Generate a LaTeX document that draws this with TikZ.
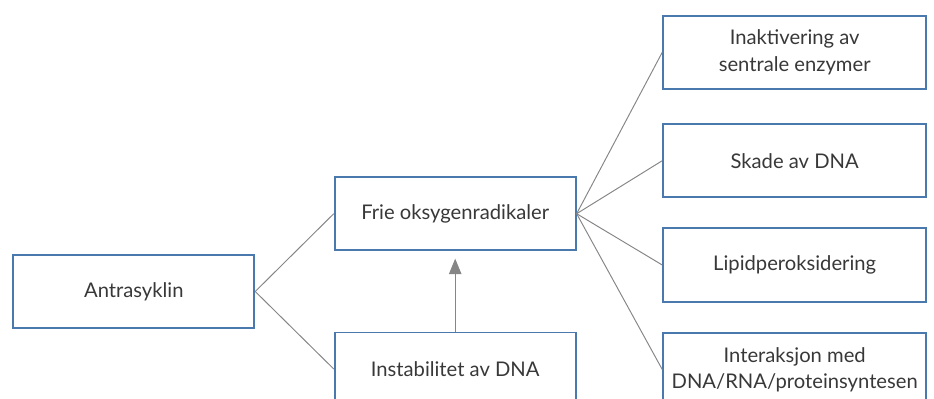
\documentclass[tikz,border=0pt]{standalone}
\usepackage{fontspec}
\setmainfont{Lato}
\usetikzlibrary{arrows.meta}
\definecolor{boxblue}{HTML}{4A79AE}
\definecolor{linegray}{HTML}{868686}
\definecolor{textgray}{HTML}{383838}
\tikzset{
  box/.style={draw=boxblue,line width=1.1pt,text=textgray,align=center,
    font=\fontsize{11.5}{15}\selectfont,inner sep=0pt},
  leftbox/.style={box,minimum width=4.82cm,minimum height=1.46cm},
  rightbox/.style={box,minimum width=5.26cm,minimum height=1.47cm},
  link/.style={draw=linegray,line width=0.55pt}
}
\begin{document}
\begin{tikzpicture}[x=0.02cm,y=-0.02cm]
    \clip (0,0) rectangle (934,399);
    \node[leftbox] (antra) at (133.8,291.5) {Antrasyklin};
    \node[leftbox] (frie) at (455.2,213.7) {Frie oksygenradikaler};
    \node[leftbox] (instab) at (455.2,369) {Instabilitet av DNA};
    \node[rightbox] (enzym) at (794.7,52.3) {Inaktivering av\\sentrale enzymer};
    \node[rightbox] (skade) at (794.7,160.7) {Skade av DNA};
    \node[rightbox] (lipid) at (794.7,265) {Lipidperoksidering};
    \node[rightbox] (inter) at (794.7,369.5) {Interaksjon med\\DNA/RNA/proteinsyntesen};
    \draw[link] (antra.east) -- (frie.west);
    \draw[link] (antra.east) -- (instab.west);
    \draw[link,-{Triangle[length=3.1mm,width=2.5mm]},shorten >=1.5mm] (instab.north) -- (frie.south);
    \draw[link] (frie.east) -- (enzym.west);
    \draw[link] (frie.east) -- (skade.west);
    \draw[link] (frie.east) -- (lipid.west);
    \draw[link] (frie.east) -- (inter.west);
\end{tikzpicture}
\end{document}
